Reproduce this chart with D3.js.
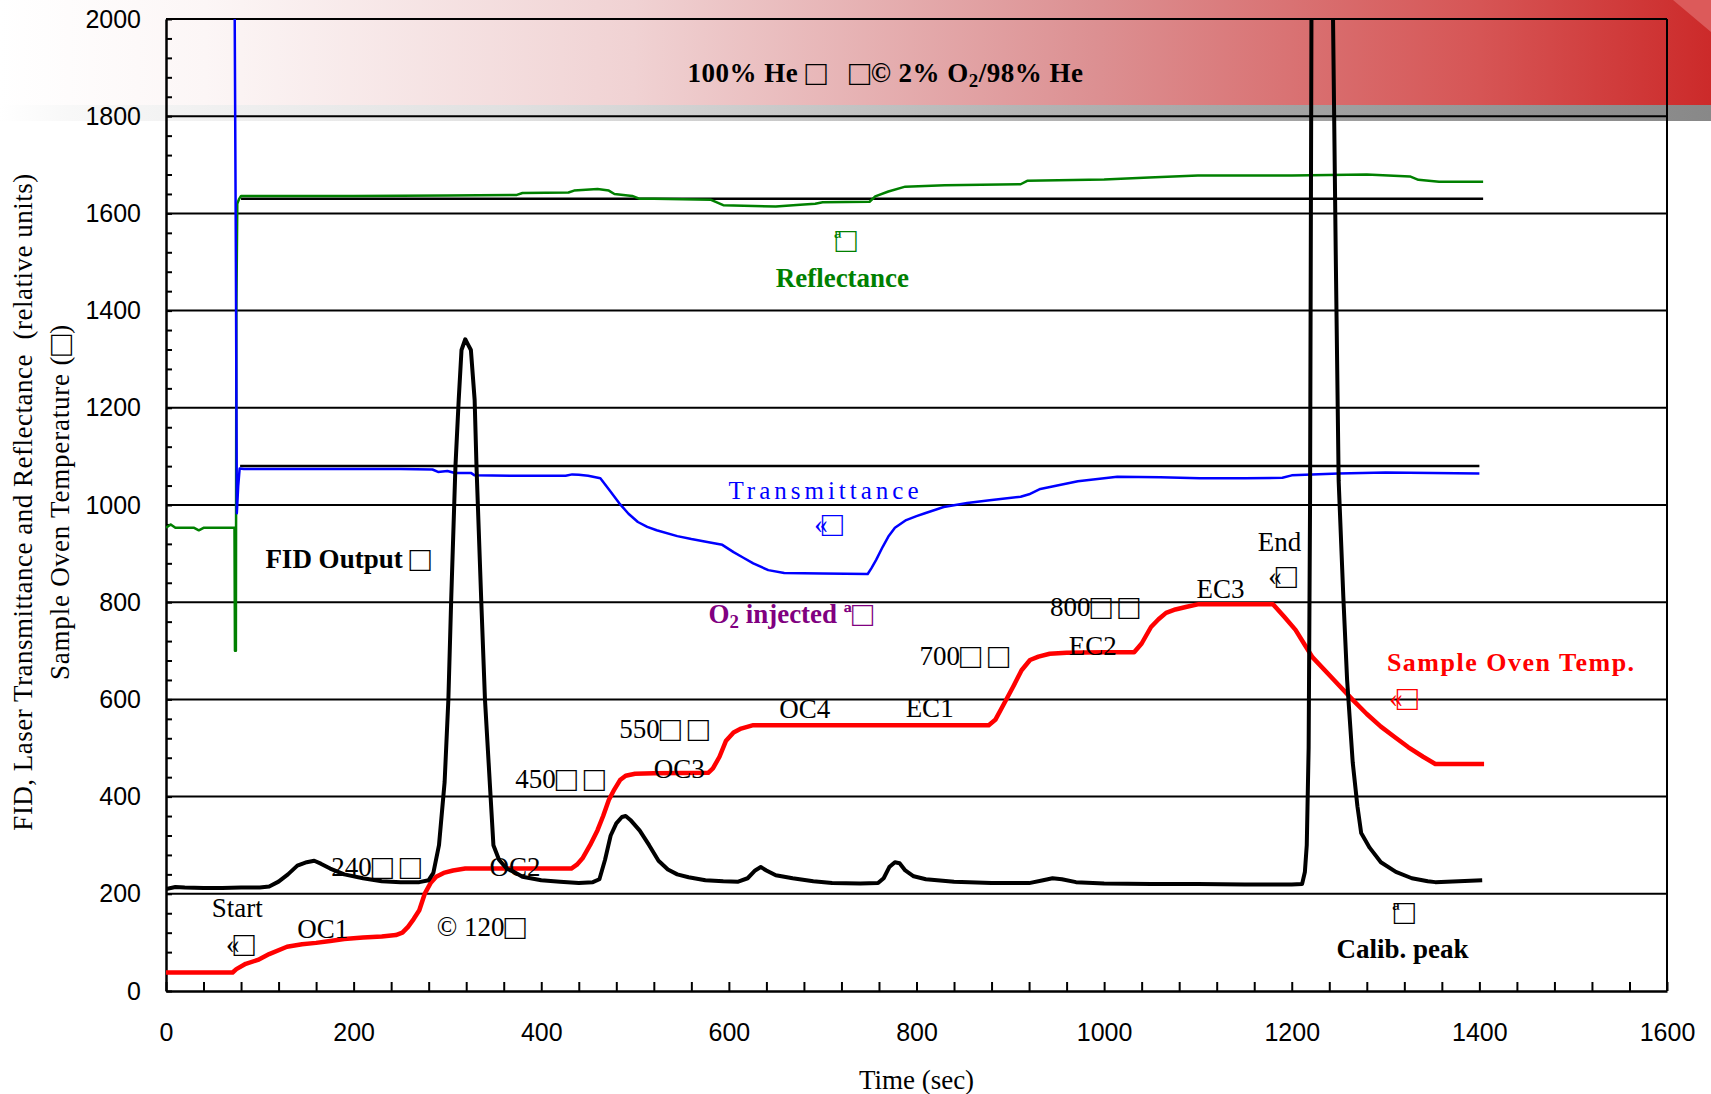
<!DOCTYPE html>
<html>
<head>
<meta charset="utf-8">
<script src="https://cdn.jsdelivr.net/npm/d3@7"></script>
<style>
  body { margin: 0; background: #fff; }
  svg { display: block; }
</style>
</head>
<body>
<svg id="chart" width="1711" height="1094"></svg>
<script>
// axis ticks
const xTicks = [0, 200, 400, 600, 800, 1000, 1200, 1400, 1600];
const yTicks = [0, 200, 400, 600, 800, 1000, 1200, 1400, 1600, 1800, 2000];

// FID output [time, value]
const fidData = [
  [0, 210], [10, 214], [20, 213], [40, 212], [60, 212], [80, 213], [100, 213], [110, 215],
  [120, 225], [130, 240], [140, 258], [150, 265], [158, 268], [165, 262], [175, 252],
  [190, 240], [210, 232], [230, 226], [250, 224], [270, 224], [280, 228], [285, 243],
  [291, 300], [297, 430], [301, 600], [304, 805], [308.5, 1078], [312, 1216], [315, 1319],
  [319, 1341], [322, 1330], [325, 1319], [329, 1216], [331, 1078], [336, 805], [340, 600],
  [346, 400], [349, 300], [355, 270], [363, 252], [371, 245], [380, 235], [400, 228],
  [420, 225], [440, 222], [455, 224], [462, 230], [468, 270], [474, 320], [480, 345],
  [486, 358], [490, 360], [495, 352], [505, 330], [515, 300], [525, 268], [535, 250],
  [545, 240], [557, 234], [575, 228], [594, 226], [610, 225], [620, 232], [628, 248],
  [634, 255], [640, 248], [650, 238], [668, 232], [690, 226], [710, 222], [740, 221],
  [759, 222], [765, 232], [771, 255], [777, 265], [782, 263], [788, 248], [797, 236],
  [810, 230], [840, 225], [880, 222], [920, 222], [935, 228], [945, 232], [955, 230],
  [970, 224], [1000, 221], [1050, 220], [1100, 220], [1150, 219], [1200, 219], [1211, 220],
  [1214, 245], [1216, 300], [1218, 500], [1219.5, 1000], [1221, 2000], [1226, 2600],
  [1232, 2800], [1239, 2600], [1244, 2000], [1247, 1500], [1250, 1050], [1255, 810],
  [1259, 640], [1265, 470], [1270, 380], [1274, 325], [1283, 295], [1295, 265], [1311, 245],
  [1328, 232], [1345, 226], [1353, 224], [1403, 228]
];

// sample oven temperature [time, value]
const tempData = [
  [0, 38], [71, 38], [75, 45], [85, 56], [98, 64], [110, 76], [129, 91], [145, 96],
  [160, 99], [175, 103], [190, 107], [210, 110], [230, 112], [245, 115], [252, 120],
  [258, 132], [264, 148], [270, 166], [276, 201], [282, 222], [288, 235], [296, 243],
  [306, 248], [319, 252], [432, 252], [438, 260], [444, 273], [452, 300], [460, 331],
  [466, 360], [472, 393], [478, 415], [484, 434], [490, 443], [500, 447], [520, 448],
  [578, 449], [583, 458], [590, 482], [597, 515], [605, 532], [613, 540], [626, 547],
  [700, 547], [800, 547], [877, 547], [884, 558], [893, 590], [903, 626], [912, 660],
  [921, 681], [930, 688], [942, 694], [960, 696], [1000, 697], [1032, 697], [1040, 715],
  [1050, 749], [1058, 765], [1066, 778], [1076, 785], [1087, 790], [1101, 796], [1180, 796],
  [1192, 770], [1204, 743], [1213, 715], [1222, 687], [1245, 640], [1265, 599], [1280, 570],
  [1295, 544], [1310, 522], [1324, 502], [1340, 482], [1353, 467], [1405, 467]
];

// laser transmittance [time, value]
const transData = [
  [73, 2100], [74.5, 1500], [75.5, 983], [77, 1040], [78.5, 1075], [83, 1074], [150, 1074],
  [250, 1074], [284, 1073], [290, 1068], [300, 1070], [308, 1066], [325, 1066], [329, 1061],
  [380, 1060], [426, 1060], [433, 1063], [440, 1062], [450, 1060], [463, 1055], [473, 1030],
  [483, 1004], [493, 982], [503, 965], [513, 955], [523, 948], [545, 936], [560, 930],
  [577, 924], [593, 918], [605, 903], [615, 892], [626, 880], [642, 866], [659, 860],
  [700, 859], [748, 858], [752, 870], [757, 887], [764, 914], [770, 935], [777, 953],
  [789, 969], [800, 977], [809, 983], [829, 996], [854, 1004], [878, 1010], [911, 1017],
  [920, 1022], [932, 1033], [950, 1040], [972, 1049], [1014, 1058], [1060, 1057],
  [1102, 1055], [1150, 1055], [1190, 1056], [1200, 1061], [1250, 1065], [1300, 1067],
  [1350, 1066], [1400, 1065]
];

// laser reflectance [time, value]
const reflData = [
  [0, 953], [5, 960], [10, 953], [30, 953], [35, 948], [40, 953], [73, 953], [73.5, 700],
  [74.5, 700], [75, 1400], [76, 1620], [78, 1630], [80, 1636], [200, 1636], [300, 1637],
  [374, 1638], [380, 1642], [429, 1643], [435, 1647], [460, 1650], [472, 1647], [478, 1640],
  [497, 1636], [505, 1630], [520, 1630], [581, 1628], [594, 1617], [650, 1614], [676, 1618],
  [692, 1620], [700, 1623], [750, 1624], [756, 1635], [770, 1645], [788, 1655], [830, 1658],
  [911, 1660], [918, 1667], [1000, 1670], [1048, 1674], [1100, 1678], [1200, 1678],
  [1280, 1680], [1326, 1676], [1335, 1669], [1357, 1665], [1404, 1665]
];

// baselines of the laser signals
const reflBase = [[80, 1630], [1404, 1630]];
const transBase = [[79, 1080], [1400, 1080]];

// text notes anchored in data units; "_2" marks a subscript
const notes = [
  { t: 767, v: 1889, kind: "header", text: "100% He \u25A1\u00A0\u00A0\u00A0\u25A1\u00A9 2% O_2/98% He" },
  { t: 721, v: 1545, kind: "greenBox", text: "\u00AA\u25A1" },
  { t: 721, v: 1467, kind: "green", text: "Reflectance" },
  { t: 703, v: 1031, kind: "blue", text: "Transmittance" },
  { t: 703, v: 961, kind: "blueBox", text: "\u00AB\u25A1" },
  { t: 194, v: 889, kind: "bold", text: "FID Output \u25A1" },
  { t: 666, v: 776, kind: "purple", text: "O_2 injected \u00AA\u25A1" },
  { t: 1187, v: 924, kind: "plain", text: "End" },
  { t: 1187, v: 854, kind: "box", text: "\u00AB\u25A1" },
  { t: 1124, v: 827, kind: "plain", text: "EC3" },
  { t: 990, v: 790, kind: "plain", text: "800\u25A1 \u25A1" },
  { t: 988, v: 710, kind: "plain", text: "EC2" },
  { t: 851, v: 689, kind: "plain", text: "700\u25A1 \u25A1" },
  { t: 1434, v: 677, kind: "red", text: "Sample Oven Temp." },
  { t: 1316, v: 603, kind: "redBox", text: "\u00AB\u25A1" },
  { t: 814, v: 582, kind: "plain", text: "EC1" },
  { t: 681, v: 580, kind: "plain", text: "OC4" },
  { t: 531, v: 539, kind: "plain", text: "550\u25A1 \u25A1" },
  { t: 420, v: 436, kind: "plain", text: "450\u25A1 \u25A1" },
  { t: 547, v: 457, kind: "plain", text: "OC3" },
  { t: 224, v: 255, kind: "plain", text: "240\u25A1 \u25A1" },
  { t: 372, v: 255, kind: "plain", text: "OC2" },
  { t: 76, v: 171, kind: "plain", text: "Start" },
  { t: 76, v: 97, kind: "box", text: "\u00AB\u25A1" },
  { t: 167, v: 128, kind: "plain", text: "OC1" },
  { t: 336, v: 132, kind: "plain", text: "\u00A9 120\u25A1" },
  { t: 1316, v: 163, kind: "box", text: "\u00AA\u25A1" },
  { t: 1318, v: 86, kind: "bold", text: "Calib. peak" }
];

const noteStyle = {
  plain:    { size: 27, weight: "normal", color: "#000", spacing: 0 },
  bold:     { size: 27, weight: "bold", color: "#000", spacing: 0 },
  header:   { size: 27, weight: "bold", color: "#000", spacing: 0.5 },
  box:      { size: 27, weight: "normal", color: "#000", spacing: -6 },
  green:    { size: 27, weight: "bold", color: "#008000", spacing: 0 },
  greenBox: { size: 27, weight: "normal", color: "#008000", spacing: -6 },
  blue:     { size: 25, weight: "normal", color: "#0000ff", spacing: 4 },
  blueBox:  { size: 27, weight: "normal", color: "#0000ff", spacing: -6 },
  purple:   { size: 27, weight: "bold", color: "#800080", spacing: 0 },
  red:      { size: 26, weight: "bold", color: "#ff0000", spacing: 1.5 },
  redBox:   { size: 27, weight: "normal", color: "#ff0000", spacing: -6 }
};

const width = 1711, height = 1094;
const margin = { left: 166, right: 44, top: 19, bottom: 103 };
const serif = "'Liberation Serif', 'Times New Roman', serif";
const sans = "'Liberation Sans', Arial, sans-serif";

const svg = d3.select("#chart");
const defs = svg.append("defs");

const pink = defs.append("linearGradient").attr("id", "pink");
[[0, "#ffffff"], [0.12, "#fcf6f6"], [0.37, "#f0d2d3"], [0.64, "#dc9092"], [0.865, "#d65555"], [1, "#cc2a2a"]]
  .forEach(([o, c]) => pink.append("stop").attr("offset", o).attr("stop-color", c));
const grey = defs.append("linearGradient").attr("id", "grey");
[[0, "#ffffff"], [0.04, "#f8f8f8"], [0.3, "#e0e0e0"], [0.6, "#b4b4b4"], [1, "#888888"]]
  .forEach(([o, c]) => grey.append("stop").attr("offset", o).attr("stop-color", c));

defs.append("clipPath").attr("id", "plotClip")
  .append("rect")
  .attr("x", margin.left).attr("y", margin.top)
  .attr("width", width - margin.left - margin.right)
  .attr("height", height - margin.top - margin.bottom);

svg.append("rect").attr("width", width).attr("height", height).attr("fill", "#fff");

// banner behind the top of the plot
svg.append("rect").attr("x", 0).attr("y", 0).attr("width", width).attr("height", 105).attr("fill", "url(#pink)");
svg.append("polygon").attr("points", "1673,0 1711,0 1711,32").attr("fill", "#dc5a5a");
svg.append("rect").attr("x", 0).attr("y", 105).attr("width", width).attr("height", 16).attr("fill", "url(#grey)");

const x = d3.scaleLinear().domain([0, 1600]).range([margin.left, width - margin.right]);
const y = d3.scaleLinear().domain([0, 2000]).range([height - margin.bottom, margin.top]);

// horizontal grid
svg.append("g")
  .selectAll("line")
  .data(yTicks.filter((d) => d > 0))
  .enter()
  .append("line")
  .attr("x1", x(0)).attr("x2", x(1600))
  .attr("y1", (d) => y(d)).attr("y2", (d) => y(d))
  .attr("stroke", "#000")
  .attr("stroke-width", 2);

// right frame
svg.append("line")
  .attr("x1", x(1600)).attr("x2", x(1600))
  .attr("y1", y(0)).attr("y2", y(2000))
  .attr("stroke", "#000").attr("stroke-width", 2);

// minor ticks (inside)
svg.append("g")
  .attr("transform", `translate(${x(0)},0)`)
  .call(d3.axisRight(y).tickValues(d3.range(0, 2001, 40)).tickSize(6).tickFormat(""))
  .call((g) => g.select(".domain").remove())
  .selectAll("line").attr("stroke-width", 2);
svg.append("g")
  .attr("transform", `translate(0,${y(0)})`)
  .call(d3.axisTop(x).tickValues(d3.range(0, 1601, 40)).tickSize(9).tickFormat(""))
  .call((g) => g.select(".domain").remove())
  .selectAll("line").attr("stroke-width", 2);

// axes with labels
const yAxis = svg.append("g")
  .attr("transform", `translate(${x(0)},0)`)
  .call(d3.axisLeft(y).tickValues(yTicks).tickSize(0).tickPadding(25).tickFormat(d3.format("d")));
yAxis.select(".domain").attr("stroke-width", 2.5);
yAxis.selectAll("text").attr("font-family", sans).attr("font-size", 25).attr("fill", "#000");

const xAxis = svg.append("g")
  .attr("transform", `translate(0,${y(0)})`)
  .call(d3.axisBottom(x).tickValues(xTicks).tickSize(0).tickPadding(32).tickFormat(d3.format("d")));
xAxis.select(".domain").attr("stroke-width", 2.5);
xAxis.selectAll("text").attr("font-family", sans).attr("font-size", 25).attr("fill", "#000");

// splits a note into tspans: subscript 2 and enlarged box glyphs
function fillText(sel, str, size) {
  const tokens = str.split(/(_2|\u25A1)/).filter((s) => s.length);
  let shift = 0;
  tokens.forEach((tok) => {
    const ts = sel.append("tspan");
    if (shift) { ts.attr("dy", shift); shift = 0; }
    if (tok === "_2") {
      ts.attr("dy", 7).attr("font-size", size * 0.7).text("2");
      shift = -7;
    } else if (tok === "\u25A1") {
      ts.attr("font-size", size * 1.3).attr("font-weight", "normal").text(tok);
    } else {
      ts.text(tok);
    }
  });
}

// axis titles
svg.append("text")
  .attr("x", x(800)).attr("y", 1080)
  .attr("text-anchor", "middle").attr("dominant-baseline", "central")
  .attr("font-family", serif).attr("font-size", 27)
  .text("Time (sec)");

const yTitle = svg.append("g").attr("transform", "translate(0,502) rotate(-90)");
yTitle.append("text")
  .attr("x", 0).attr("y", 23)
  .attr("text-anchor", "middle").attr("dominant-baseline", "central")
  .attr("font-family", serif).attr("font-size", 27).attr("letter-spacing", 0.5)
  .text("FID, Laser Transmittance and Reflectance\u00A0\u00A0(relative units)");
yTitle.append("text")
  .attr("x", 0).attr("y", 60)
  .attr("text-anchor", "middle").attr("dominant-baseline", "central")
  .attr("font-family", serif).attr("font-size", 27).attr("letter-spacing", 0.8)
  .call((t) => fillText(t, "Sample Oven Temperature (\u25A1)", 27));

// series
const line = d3.line().x((d) => x(d[0])).y((d) => y(d[1]));
const plot = svg.append("g").attr("clip-path", "url(#plotClip)");

function drawSeries(data, color, w) {
  plot.append("path")
    .datum(data)
    .attr("d", line)
    .attr("fill", "none")
    .attr("stroke", color)
    .attr("stroke-width", w)
    .attr("stroke-linejoin", "round");
}

drawSeries(reflBase, "#000", 2.5);
drawSeries(transBase, "#000", 2.5);
drawSeries(reflData, "#008000", 2.5);
drawSeries(transData, "#0000ff", 2.5);
drawSeries(tempData, "#ff0000", 4.5);
drawSeries(fidData, "#000", 4);

// notes
notes.forEach((n) => {
  const st = noteStyle[n.kind];
  const t = svg.append("text")
    .attr("x", x(n.t)).attr("y", y(n.v))
    .attr("text-anchor", "middle").attr("dominant-baseline", "central")
    .attr("font-family", serif)
    .attr("font-size", st.size)
    .attr("font-weight", st.weight)
    .attr("letter-spacing", st.spacing)
    .attr("fill", st.color);
  fillText(t, n.text, st.size);
});
</script>
</body>
</html>
